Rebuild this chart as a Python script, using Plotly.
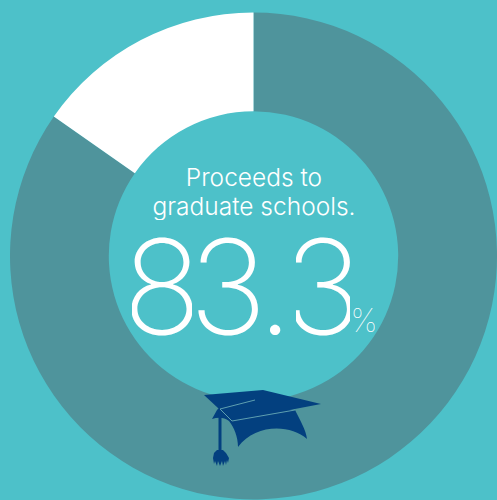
import plotly.graph_objects as go

W, H = 497, 500
labels = ["Proceeds to graduate schools", "Other"]
values = [84.7, 15.3]
BG, RING, CAP = "#4DC1C9", "#4F949C", "#03407F"
FONT = "Inter"

def px(d):
    """Convert a path written in picture pixels to paper coordinates."""
    out = []
    for t in d.split():
        if "," in t:
            x, y = t.split(",")
            out.append(f"{float(x)/W:.5f},{1-float(y)/H:.5f}")
        else:
            out.append(t)
    return " ".join(out)

cap_body = "M 212,419 L 217,410 L 222,405 L 295,410 C 300,420 306,430 307,439 C 290,424 255,424 238,447 C 238,437 234,427 229,421 C 224,417 218,417 212,419 Z"
cap_board = "M 204,395 L 263,390 L 321,404 L 232,421 Z"
cord = "M 218.5,409 L 218.5,452 L 221.5,452 L 221.5,409 Z"
tassel = ("M 217,450 L 223,450 L 226,453 L 229,458 L 228,463 L 227,460 L 226,465 L 225,461 L 223,466 L 222,461 "
          "L 220,466 L 218,461 L 217,466 L 215,461 L 214,464 L 213,458 L 214,453 Z")
seam = "M 220,409 L 255,400 M 220,409 L 232,421 L 295,410"

shapes = [
    dict(type="path", xref="paper", yref="paper", path=px(cap_body), fillcolor=CAP, line_width=0),
    dict(type="path", xref="paper", yref="paper", path=px(cap_board), fillcolor=CAP, line_width=0),
    dict(type="path", xref="paper", yref="paper", path=px(cord), fillcolor=CAP, line_width=0),
    dict(type="path", xref="paper", yref="paper", path=px(tassel), fillcolor=CAP, line_width=0),
    dict(type="path", xref="paper", yref="paper", path=px(seam), line=dict(color="#5E9FB0", width=1)),
]

def note(text, x, y, size, weight, bw, bh):
    return dict(text=text, x=x/W, y=1-y/H, xref="paper", yref="paper", showarrow=False,
                xanchor="center", yanchor="middle", width=bw, height=bh, align="center", valign="middle",
                borderpad=0, font=dict(family=FONT, size=size, color="white", weight=weight))

fig = go.Figure(go.Pie(
    labels=labels, values=values, hole=145/244, sort=False, direction="clockwise", rotation=0,
    marker=dict(colors=[RING, "white"], line_width=0), textinfo="none", hoverinfo="label+percent",
    domain=dict(x=[10/W, 1], y=[0, 1-12/H]), showlegend=False,
))
fig.update_layout(
    width=W, height=H, margin=dict(l=0, r=0, t=0, b=0), paper_bgcolor=BG, plot_bgcolor=BG,
    shapes=shapes,
    annotations=[
        note("Proceeds to", 254, 177, 24.5, 300, 210, 28),
        note("graduate schools.", 254, 206, 24.5, 300, 210, 28),
        note("8", 162, 286, 131, 200, 60, 100),
        note("3", 228, 286, 131, 200, 60, 100),
        note(".", 275, 286, 131, 200, 14, 100),
        note("3", 323, 286, 131, 200, 54, 100),
        note("%", 364, 320, 32, 100, 22, 32),
    ],
)
fig.write_html("out.html", post_script="document.body.style.margin='0';document.body.style.background='%s';" % BG,
               config=dict(displayModeBar=False))
